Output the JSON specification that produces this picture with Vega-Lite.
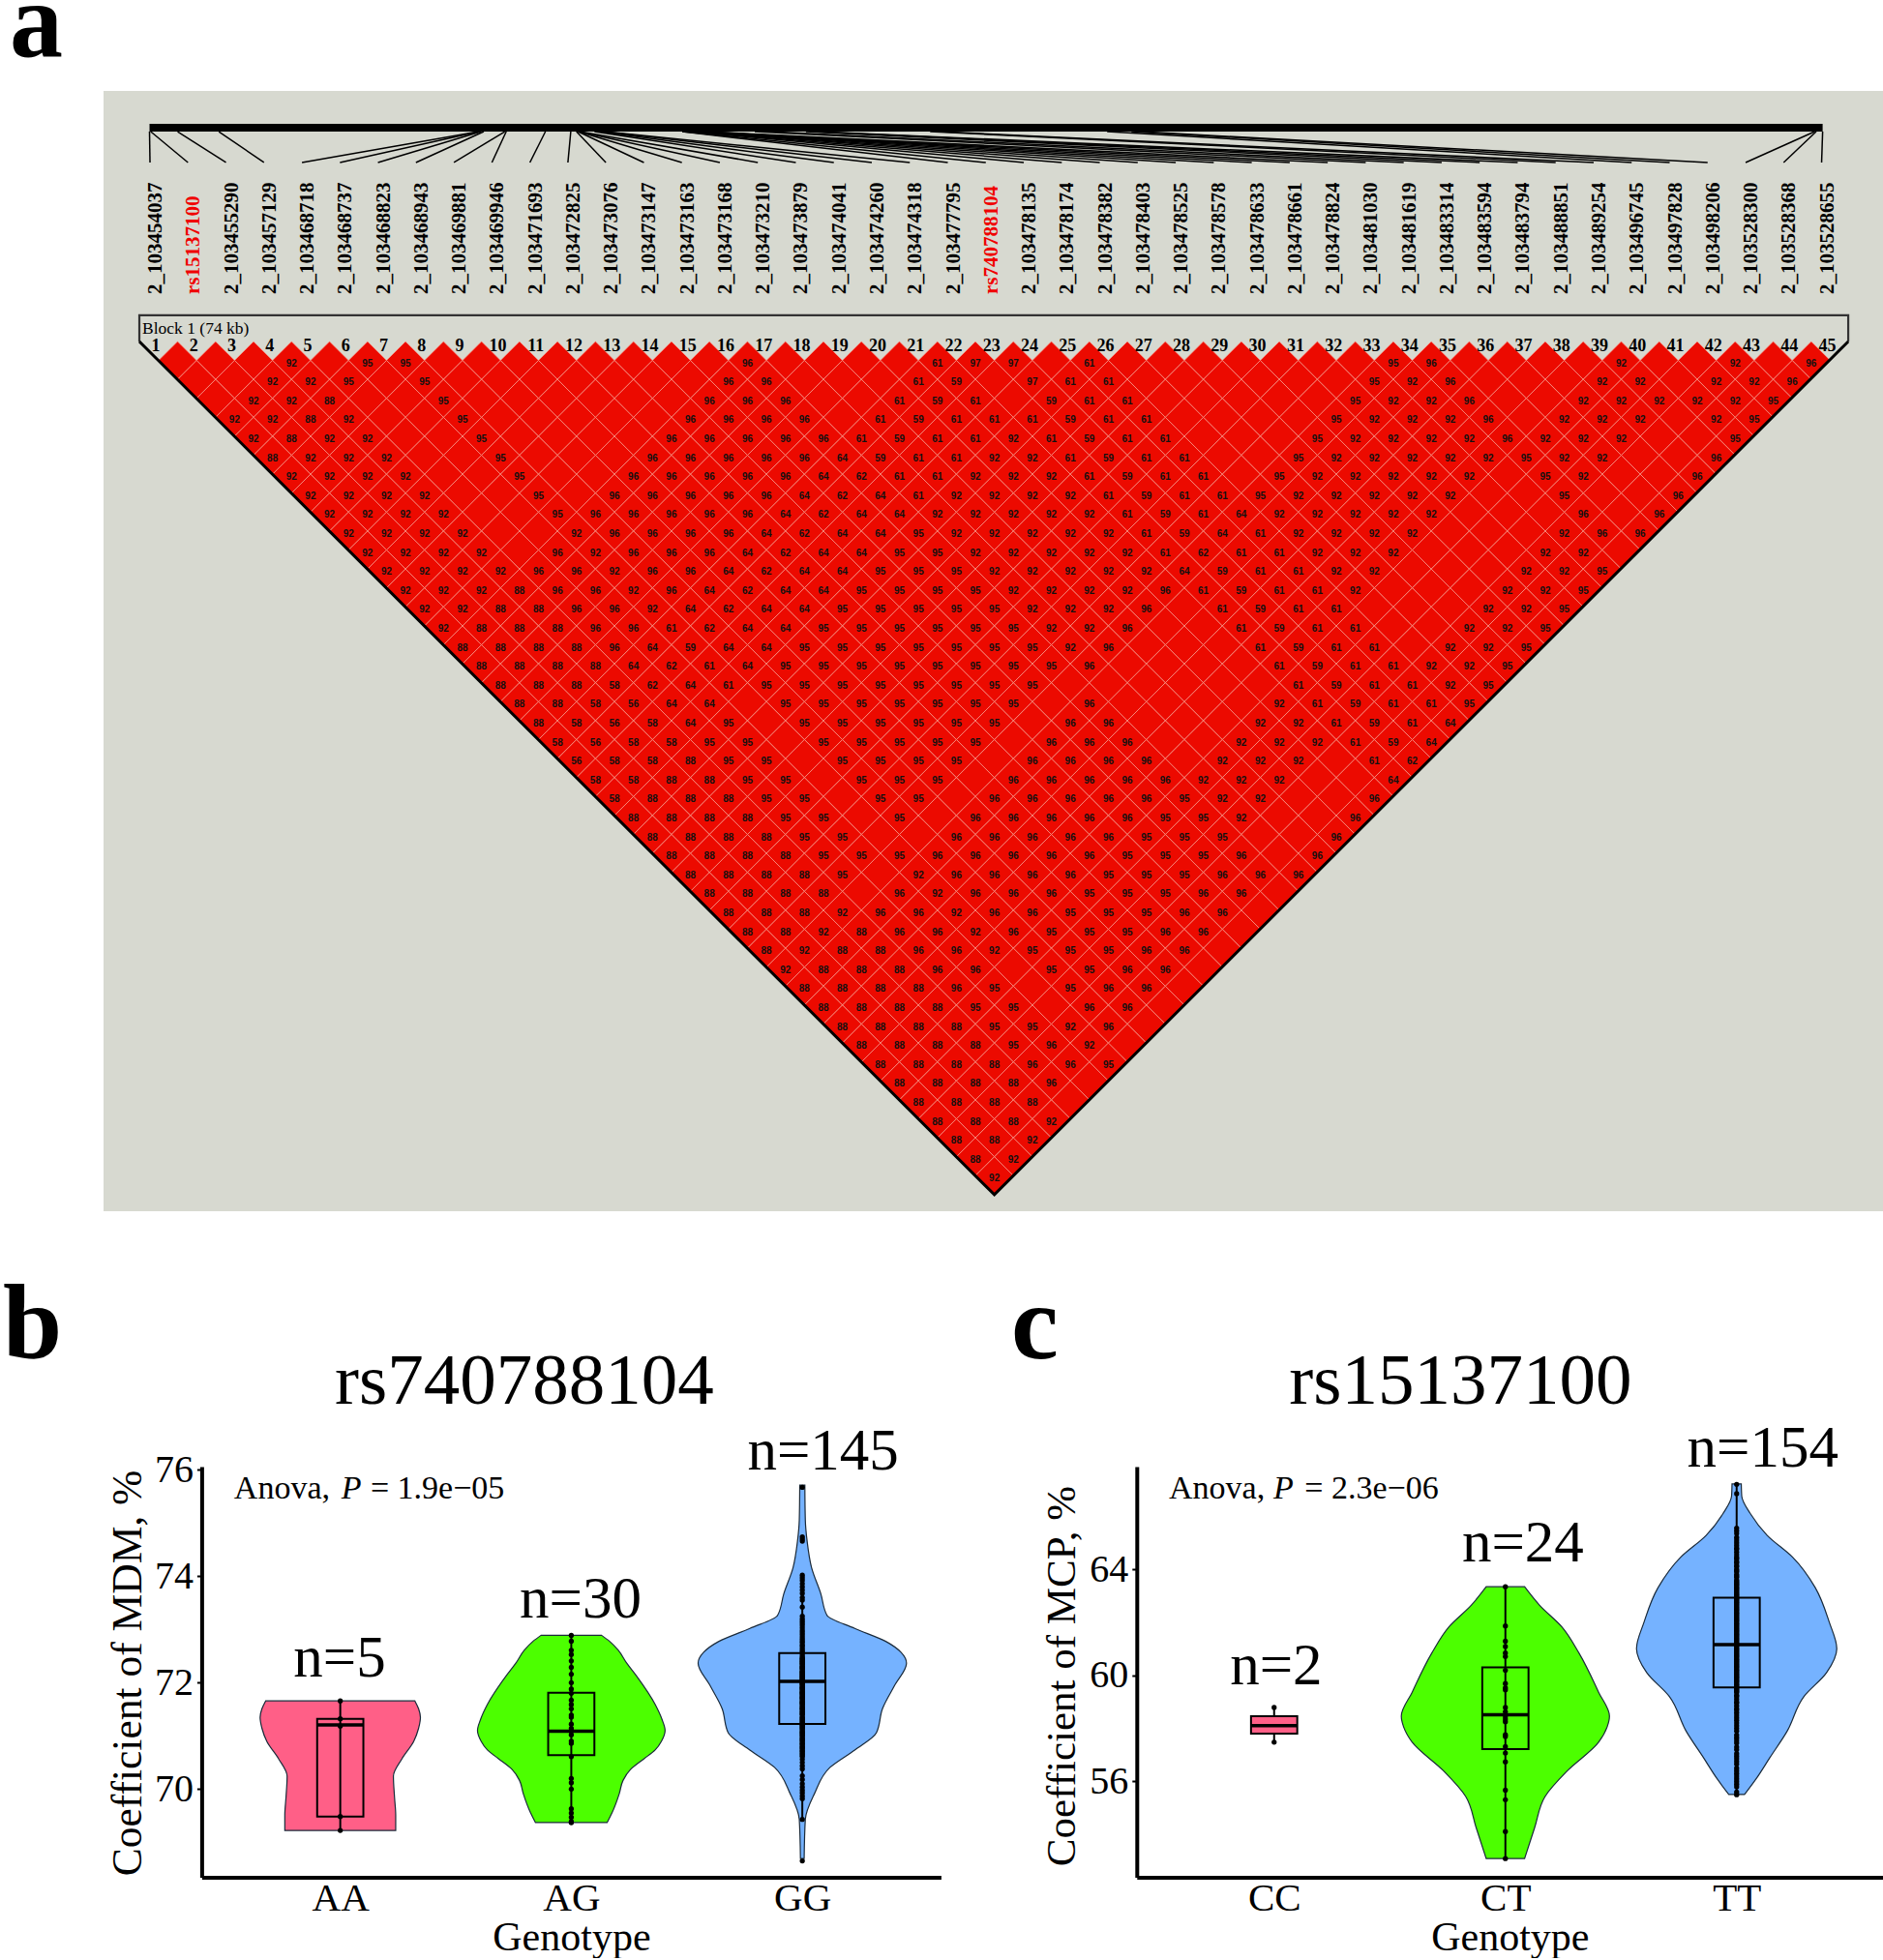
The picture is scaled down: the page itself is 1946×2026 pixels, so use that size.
{"$schema":"https://vega.github.io/schema/vega-lite/v6.json","background":"white","padding":0,"spacing":26,
"config":{"view":{"stroke":null},"axis":{"grid":false}},
"datasets":{
"snps":[{"n":1,"name":"2_103454037","bx":1.523,"sx":1.548,"lx":1.854},{"n":2,"name":"rs15137100","bx":1.586,"sx":3.548,"lx":3.854,"red":true},{"n":3,"name":"2_103455290","bx":3.002,"sx":5.548,"lx":5.854},{"n":4,"name":"2_103457129","bx":5.173,"sx":7.548,"lx":7.854},{"n":5,"name":"2_103468718","bx":18.853,"sx":9.548,"lx":9.854},{"n":6,"name":"2_103468737","bx":18.875,"sx":11.548,"lx":11.854},{"n":7,"name":"2_103468823","bx":18.976,"sx":13.548,"lx":13.854},{"n":8,"name":"2_103468943","bx":19.118,"sx":15.548,"lx":15.854},{"n":9,"name":"2_103469881","bx":20.225,"sx":17.548,"lx":17.854},{"n":10,"name":"2_103469946","bx":20.302,"sx":19.548,"lx":19.854},{"n":11,"name":"2_103471693","bx":22.364,"sx":21.548,"lx":21.854},{"n":12,"name":"2_103472825","bx":23.7,"sx":23.548,"lx":23.854},{"n":13,"name":"2_103473076","bx":23.997,"sx":25.548,"lx":25.854},{"n":14,"name":"2_103473147","bx":24.081,"sx":27.548,"lx":27.854},{"n":15,"name":"2_103473163","bx":24.099,"sx":29.548,"lx":29.854},{"n":16,"name":"2_103473168","bx":24.105,"sx":31.548,"lx":31.854},{"n":17,"name":"2_103473210","bx":24.155,"sx":33.548,"lx":33.854},{"n":18,"name":"2_103473879","bx":24.945,"sx":35.548,"lx":35.854},{"n":19,"name":"2_103474041","bx":25.136,"sx":37.548,"lx":37.854},{"n":20,"name":"2_103474260","bx":25.394,"sx":39.548,"lx":39.854},{"n":21,"name":"2_103474318","bx":25.463,"sx":41.548,"lx":41.854},{"n":22,"name":"2_103477795","bx":29.567,"sx":43.548,"lx":43.854},{"n":23,"name":"rs740788104","bx":29.581,"sx":45.548,"lx":45.854,"red":true},{"n":24,"name":"2_103478135","bx":29.968,"sx":47.548,"lx":47.854},{"n":25,"name":"2_103478174","bx":30.014,"sx":49.548,"lx":49.854},{"n":26,"name":"2_103478382","bx":30.26,"sx":51.548,"lx":51.854},{"n":27,"name":"2_103478403","bx":30.285,"sx":53.548,"lx":53.854},{"n":28,"name":"2_103478525","bx":30.429,"sx":55.548,"lx":55.854},{"n":29,"name":"2_103478578","bx":30.491,"sx":57.548,"lx":57.854},{"n":30,"name":"2_103478633","bx":30.556,"sx":59.548,"lx":59.854},{"n":31,"name":"2_103478661","bx":30.589,"sx":61.548,"lx":61.854},{"n":32,"name":"2_103478824","bx":30.782,"sx":63.548,"lx":63.854},{"n":33,"name":"2_103481030","bx":33.386,"sx":65.548,"lx":65.854},{"n":34,"name":"2_103481619","bx":34.081,"sx":67.548,"lx":67.854},{"n":35,"name":"2_103483314","bx":36.082,"sx":69.548,"lx":69.854},{"n":36,"name":"2_103483594","bx":36.412,"sx":71.548,"lx":71.854},{"n":37,"name":"2_103483794","bx":36.648,"sx":73.548,"lx":73.854},{"n":38,"name":"2_103488851","bx":42.618,"sx":75.548,"lx":75.854},{"n":39,"name":"2_103489254","bx":43.093,"sx":77.548,"lx":77.854},{"n":40,"name":"2_103496745","bx":51.936,"sx":79.548,"lx":79.854},{"n":41,"name":"2_103497828","bx":53.214,"sx":81.548,"lx":81.854},{"n":42,"name":"2_103498206","bx":53.66,"sx":83.548,"lx":83.854},{"n":43,"name":"2_103528300","bx":89.183,"sx":85.548,"lx":85.854},{"n":44,"name":"2_103528368","bx":89.263,"sx":87.548,"lx":87.854},{"n":45,"name":"2_103528655","bx":89.602,"sx":89.548,"lx":89.854}],
"cells":[
{"x":3,"y":1},{"x":5,"y":1},{"x":7,"y":1},{"x":9,"y":1,"v":92},{"x":11,"y":1},{"x":13,"y":1,"v":95},{"x":15,"y":1,"v":95},{"x":17,"y":1},{"x":19,"y":1},{"x":21,"y":1},{"x":23,"y":1},{"x":25,"y":1},{"x":27,"y":1},{"x":29,"y":1},{"x":31,"y":1},{"x":33,"y":1,"v":96},{"x":35,"y":1},{"x":37,"y":1},{"x":39,"y":1},{"x":41,"y":1},{"x":43,"y":1,"v":61},{"x":45,"y":1,"v":97},{"x":47,"y":1,"v":97},{"x":49,"y":1},{"x":51,"y":1,"v":61},{"x":53,"y":1},{"x":55,"y":1},{"x":57,"y":1},{"x":59,"y":1},{"x":61,"y":1},{"x":63,"y":1},{"x":65,"y":1},{"x":67,"y":1,"v":95},{"x":69,"y":1,"v":96},{"x":71,"y":1},{"x":73,"y":1},{"x":75,"y":1},{"x":77,"y":1},{"x":79,"y":1,"v":92},{"x":81,"y":1},{"x":83,"y":1},{"x":85,"y":1,"v":92},{"x":87,"y":1},{"x":89,"y":1,"v":96},
{"x":4,"y":2},{"x":6,"y":2},{"x":8,"y":2,"v":92},{"x":10,"y":2,"v":92},{"x":12,"y":2,"v":95},{"x":14,"y":2},{"x":16,"y":2,"v":95},{"x":18,"y":2},{"x":20,"y":2},{"x":22,"y":2},{"x":24,"y":2},{"x":26,"y":2},{"x":28,"y":2},{"x":30,"y":2},{"x":32,"y":2,"v":96},{"x":34,"y":2,"v":96},{"x":36,"y":2},{"x":38,"y":2},{"x":40,"y":2},{"x":42,"y":2,"v":61},{"x":44,"y":2,"v":59},{"x":46,"y":2},{"x":48,"y":2,"v":97},{"x":50,"y":2,"v":61},{"x":52,"y":2,"v":61},{"x":54,"y":2},{"x":56,"y":2},{"x":58,"y":2},{"x":60,"y":2},{"x":62,"y":2},{"x":64,"y":2},{"x":66,"y":2,"v":95},{"x":68,"y":2,"v":92},{"x":70,"y":2,"v":96},{"x":72,"y":2},{"x":74,"y":2},{"x":76,"y":2},{"x":78,"y":2,"v":92},{"x":80,"y":2,"v":92},{"x":82,"y":2},{"x":84,"y":2,"v":92},{"x":86,"y":2,"v":92},{"x":88,"y":2,"v":96},
{"x":5,"y":3},{"x":7,"y":3,"v":92},{"x":9,"y":3,"v":92},{"x":11,"y":3,"v":88},{"x":13,"y":3},{"x":15,"y":3},{"x":17,"y":3,"v":95},{"x":19,"y":3},{"x":21,"y":3},{"x":23,"y":3},{"x":25,"y":3},{"x":27,"y":3},{"x":29,"y":3},{"x":31,"y":3,"v":96},{"x":33,"y":3,"v":96},{"x":35,"y":3,"v":96},{"x":37,"y":3},{"x":39,"y":3},{"x":41,"y":3,"v":61},{"x":43,"y":3,"v":59},{"x":45,"y":3,"v":61},{"x":47,"y":3},{"x":49,"y":3,"v":59},{"x":51,"y":3,"v":61},{"x":53,"y":3,"v":61},{"x":55,"y":3},{"x":57,"y":3},{"x":59,"y":3},{"x":61,"y":3},{"x":63,"y":3},{"x":65,"y":3,"v":95},{"x":67,"y":3,"v":92},{"x":69,"y":3,"v":92},{"x":71,"y":3,"v":96},{"x":73,"y":3},{"x":75,"y":3},{"x":77,"y":3,"v":92},{"x":79,"y":3,"v":92},{"x":81,"y":3,"v":92},{"x":83,"y":3,"v":92},{"x":85,"y":3,"v":92},{"x":87,"y":3,"v":95},
{"x":6,"y":4,"v":92},{"x":8,"y":4,"v":92},{"x":10,"y":4,"v":88},{"x":12,"y":4,"v":92},{"x":14,"y":4},{"x":16,"y":4},{"x":18,"y":4,"v":95},{"x":20,"y":4},{"x":22,"y":4},{"x":24,"y":4},{"x":26,"y":4},{"x":28,"y":4},{"x":30,"y":4,"v":96},{"x":32,"y":4,"v":96},{"x":34,"y":4,"v":96},{"x":36,"y":4,"v":96},{"x":38,"y":4},{"x":40,"y":4,"v":61},{"x":42,"y":4,"v":59},{"x":44,"y":4,"v":61},{"x":46,"y":4,"v":61},{"x":48,"y":4,"v":61},{"x":50,"y":4,"v":59},{"x":52,"y":4,"v":61},{"x":54,"y":4,"v":61},{"x":56,"y":4},{"x":58,"y":4},{"x":60,"y":4},{"x":62,"y":4},{"x":64,"y":4,"v":95},{"x":66,"y":4,"v":92},{"x":68,"y":4,"v":92},{"x":70,"y":4,"v":92},{"x":72,"y":4,"v":96},{"x":74,"y":4},{"x":76,"y":4,"v":92},{"x":78,"y":4,"v":92},{"x":80,"y":4,"v":92},{"x":82,"y":4},{"x":84,"y":4,"v":92},{"x":86,"y":4,"v":95},
{"x":7,"y":5,"v":92},{"x":9,"y":5,"v":88},{"x":11,"y":5,"v":92},{"x":13,"y":5,"v":92},{"x":15,"y":5},{"x":17,"y":5},{"x":19,"y":5,"v":95},{"x":21,"y":5},{"x":23,"y":5},{"x":25,"y":5},{"x":27,"y":5},{"x":29,"y":5,"v":96},{"x":31,"y":5,"v":96},{"x":33,"y":5,"v":96},{"x":35,"y":5,"v":96},{"x":37,"y":5,"v":96},{"x":39,"y":5,"v":61},{"x":41,"y":5,"v":59},{"x":43,"y":5,"v":61},{"x":45,"y":5,"v":61},{"x":47,"y":5,"v":92},{"x":49,"y":5,"v":61},{"x":51,"y":5,"v":59},{"x":53,"y":5,"v":61},{"x":55,"y":5,"v":61},{"x":57,"y":5},{"x":59,"y":5},{"x":61,"y":5},{"x":63,"y":5,"v":95},{"x":65,"y":5,"v":92},{"x":67,"y":5,"v":92},{"x":69,"y":5,"v":92},{"x":71,"y":5,"v":92},{"x":73,"y":5,"v":96},{"x":75,"y":5,"v":92},{"x":77,"y":5,"v":92},{"x":79,"y":5,"v":92},{"x":81,"y":5},{"x":83,"y":5},{"x":85,"y":5,"v":95},
{"x":8,"y":6,"v":88},{"x":10,"y":6,"v":92},{"x":12,"y":6,"v":92},{"x":14,"y":6,"v":92},{"x":16,"y":6},{"x":18,"y":6},{"x":20,"y":6,"v":95},{"x":22,"y":6},{"x":24,"y":6},{"x":26,"y":6},{"x":28,"y":6,"v":96},{"x":30,"y":6,"v":96},{"x":32,"y":6,"v":96},{"x":34,"y":6,"v":96},{"x":36,"y":6,"v":96},{"x":38,"y":6,"v":64},{"x":40,"y":6,"v":59},{"x":42,"y":6,"v":61},{"x":44,"y":6,"v":61},{"x":46,"y":6,"v":92},{"x":48,"y":6,"v":92},{"x":50,"y":6,"v":61},{"x":52,"y":6,"v":59},{"x":54,"y":6,"v":61},{"x":56,"y":6,"v":61},{"x":58,"y":6},{"x":60,"y":6},{"x":62,"y":6,"v":95},{"x":64,"y":6,"v":92},{"x":66,"y":6,"v":92},{"x":68,"y":6,"v":92},{"x":70,"y":6,"v":92},{"x":72,"y":6,"v":92},{"x":74,"y":6,"v":95},{"x":76,"y":6,"v":92},{"x":78,"y":6,"v":92},{"x":80,"y":6},{"x":82,"y":6},{"x":84,"y":6,"v":96},
{"x":9,"y":7,"v":92},{"x":11,"y":7,"v":92},{"x":13,"y":7,"v":92},{"x":15,"y":7,"v":92},{"x":17,"y":7},{"x":19,"y":7},{"x":21,"y":7,"v":95},{"x":23,"y":7},{"x":25,"y":7},{"x":27,"y":7,"v":96},{"x":29,"y":7,"v":96},{"x":31,"y":7,"v":96},{"x":33,"y":7,"v":96},{"x":35,"y":7,"v":96},{"x":37,"y":7,"v":64},{"x":39,"y":7,"v":62},{"x":41,"y":7,"v":61},{"x":43,"y":7,"v":61},{"x":45,"y":7,"v":92},{"x":47,"y":7,"v":92},{"x":49,"y":7,"v":92},{"x":51,"y":7,"v":61},{"x":53,"y":7,"v":59},{"x":55,"y":7,"v":61},{"x":57,"y":7,"v":61},{"x":59,"y":7},{"x":61,"y":7,"v":95},{"x":63,"y":7,"v":92},{"x":65,"y":7,"v":92},{"x":67,"y":7,"v":92},{"x":69,"y":7,"v":92},{"x":71,"y":7,"v":92},{"x":73,"y":7},{"x":75,"y":7,"v":95},{"x":77,"y":7,"v":92},{"x":79,"y":7},{"x":81,"y":7},{"x":83,"y":7,"v":96},
{"x":10,"y":8,"v":92},{"x":12,"y":8,"v":92},{"x":14,"y":8,"v":92},{"x":16,"y":8,"v":92},{"x":18,"y":8},{"x":20,"y":8},{"x":22,"y":8,"v":95},{"x":24,"y":8},{"x":26,"y":8,"v":96},{"x":28,"y":8,"v":96},{"x":30,"y":8,"v":96},{"x":32,"y":8,"v":96},{"x":34,"y":8,"v":96},{"x":36,"y":8,"v":64},{"x":38,"y":8,"v":62},{"x":40,"y":8,"v":64},{"x":42,"y":8,"v":61},{"x":44,"y":8,"v":92},{"x":46,"y":8,"v":92},{"x":48,"y":8,"v":92},{"x":50,"y":8,"v":92},{"x":52,"y":8,"v":61},{"x":54,"y":8,"v":59},{"x":56,"y":8,"v":61},{"x":58,"y":8,"v":61},{"x":60,"y":8,"v":95},{"x":62,"y":8,"v":92},{"x":64,"y":8,"v":92},{"x":66,"y":8,"v":92},{"x":68,"y":8,"v":92},{"x":70,"y":8,"v":92},{"x":72,"y":8},{"x":74,"y":8},{"x":76,"y":8,"v":95},{"x":78,"y":8},{"x":80,"y":8},{"x":82,"y":8,"v":96},
{"x":11,"y":9,"v":92},{"x":13,"y":9,"v":92},{"x":15,"y":9,"v":92},{"x":17,"y":9,"v":92},{"x":19,"y":9},{"x":21,"y":9},{"x":23,"y":9,"v":95},{"x":25,"y":9,"v":96},{"x":27,"y":9,"v":96},{"x":29,"y":9,"v":96},{"x":31,"y":9,"v":96},{"x":33,"y":9,"v":96},{"x":35,"y":9,"v":64},{"x":37,"y":9,"v":62},{"x":39,"y":9,"v":64},{"x":41,"y":9,"v":64},{"x":43,"y":9,"v":92},{"x":45,"y":9,"v":92},{"x":47,"y":9,"v":92},{"x":49,"y":9,"v":92},{"x":51,"y":9,"v":92},{"x":53,"y":9,"v":61},{"x":55,"y":9,"v":59},{"x":57,"y":9,"v":61},{"x":59,"y":9,"v":64},{"x":61,"y":9,"v":92},{"x":63,"y":9,"v":92},{"x":65,"y":9,"v":92},{"x":67,"y":9,"v":92},{"x":69,"y":9,"v":92},{"x":71,"y":9},{"x":73,"y":9},{"x":75,"y":9},{"x":77,"y":9,"v":96},{"x":79,"y":9},{"x":81,"y":9,"v":96},
{"x":12,"y":10,"v":92},{"x":14,"y":10,"v":92},{"x":16,"y":10,"v":92},{"x":18,"y":10,"v":92},{"x":20,"y":10},{"x":22,"y":10},{"x":24,"y":10,"v":92},{"x":26,"y":10,"v":96},{"x":28,"y":10,"v":96},{"x":30,"y":10,"v":96},{"x":32,"y":10,"v":96},{"x":34,"y":10,"v":64},{"x":36,"y":10,"v":62},{"x":38,"y":10,"v":64},{"x":40,"y":10,"v":64},{"x":42,"y":10,"v":95},{"x":44,"y":10,"v":92},{"x":46,"y":10,"v":92},{"x":48,"y":10,"v":92},{"x":50,"y":10,"v":92},{"x":52,"y":10,"v":92},{"x":54,"y":10,"v":61},{"x":56,"y":10,"v":59},{"x":58,"y":10,"v":64},{"x":60,"y":10,"v":61},{"x":62,"y":10,"v":92},{"x":64,"y":10,"v":92},{"x":66,"y":10,"v":92},{"x":68,"y":10,"v":92},{"x":70,"y":10},{"x":72,"y":10},{"x":74,"y":10},{"x":76,"y":10,"v":92},{"x":78,"y":10,"v":96},{"x":80,"y":10,"v":96},
{"x":13,"y":11,"v":92},{"x":15,"y":11,"v":92},{"x":17,"y":11,"v":92},{"x":19,"y":11,"v":92},{"x":21,"y":11},{"x":23,"y":11,"v":96},{"x":25,"y":11,"v":92},{"x":27,"y":11,"v":96},{"x":29,"y":11,"v":96},{"x":31,"y":11,"v":96},{"x":33,"y":11,"v":64},{"x":35,"y":11,"v":62},{"x":37,"y":11,"v":64},{"x":39,"y":11,"v":64},{"x":41,"y":11,"v":95},{"x":43,"y":11,"v":95},{"x":45,"y":11,"v":92},{"x":47,"y":11,"v":92},{"x":49,"y":11,"v":92},{"x":51,"y":11,"v":92},{"x":53,"y":11,"v":92},{"x":55,"y":11,"v":61},{"x":57,"y":11,"v":62},{"x":59,"y":11,"v":61},{"x":61,"y":11,"v":61},{"x":63,"y":11,"v":92},{"x":65,"y":11,"v":92},{"x":67,"y":11,"v":92},{"x":69,"y":11},{"x":71,"y":11},{"x":73,"y":11},{"x":75,"y":11,"v":92},{"x":77,"y":11,"v":92},{"x":79,"y":11},
{"x":14,"y":12,"v":92},{"x":16,"y":12,"v":92},{"x":18,"y":12,"v":92},{"x":20,"y":12,"v":92},{"x":22,"y":12,"v":96},{"x":24,"y":12,"v":96},{"x":26,"y":12,"v":92},{"x":28,"y":12,"v":96},{"x":30,"y":12,"v":96},{"x":32,"y":12,"v":64},{"x":34,"y":12,"v":62},{"x":36,"y":12,"v":64},{"x":38,"y":12,"v":64},{"x":40,"y":12,"v":95},{"x":42,"y":12,"v":95},{"x":44,"y":12,"v":95},{"x":46,"y":12,"v":92},{"x":48,"y":12,"v":92},{"x":50,"y":12,"v":92},{"x":52,"y":12,"v":92},{"x":54,"y":12,"v":92},{"x":56,"y":12,"v":64},{"x":58,"y":12,"v":59},{"x":60,"y":12,"v":61},{"x":62,"y":12,"v":61},{"x":64,"y":12,"v":92},{"x":66,"y":12,"v":92},{"x":68,"y":12},{"x":70,"y":12},{"x":72,"y":12},{"x":74,"y":12,"v":92},{"x":76,"y":12,"v":92},{"x":78,"y":12,"v":95},
{"x":15,"y":13,"v":92},{"x":17,"y":13,"v":92},{"x":19,"y":13,"v":92},{"x":21,"y":13,"v":88},{"x":23,"y":13,"v":96},{"x":25,"y":13,"v":96},{"x":27,"y":13,"v":92},{"x":29,"y":13,"v":96},{"x":31,"y":13,"v":64},{"x":33,"y":13,"v":62},{"x":35,"y":13,"v":64},{"x":37,"y":13,"v":64},{"x":39,"y":13,"v":95},{"x":41,"y":13,"v":95},{"x":43,"y":13,"v":95},{"x":45,"y":13,"v":95},{"x":47,"y":13,"v":92},{"x":49,"y":13,"v":92},{"x":51,"y":13,"v":92},{"x":53,"y":13,"v":92},{"x":55,"y":13,"v":96},{"x":57,"y":13,"v":61},{"x":59,"y":13,"v":59},{"x":61,"y":13,"v":61},{"x":63,"y":13,"v":61},{"x":65,"y":13,"v":92},{"x":67,"y":13},{"x":69,"y":13},{"x":71,"y":13},{"x":73,"y":13,"v":92},{"x":75,"y":13,"v":92},{"x":77,"y":13,"v":95},
{"x":16,"y":14,"v":92},{"x":18,"y":14,"v":92},{"x":20,"y":14,"v":88},{"x":22,"y":14,"v":88},{"x":24,"y":14,"v":96},{"x":26,"y":14,"v":96},{"x":28,"y":14,"v":92},{"x":30,"y":14,"v":64},{"x":32,"y":14,"v":62},{"x":34,"y":14,"v":64},{"x":36,"y":14,"v":64},{"x":38,"y":14,"v":95},{"x":40,"y":14,"v":95},{"x":42,"y":14,"v":95},{"x":44,"y":14,"v":95},{"x":46,"y":14,"v":95},{"x":48,"y":14,"v":92},{"x":50,"y":14,"v":92},{"x":52,"y":14,"v":92},{"x":54,"y":14,"v":96},{"x":56,"y":14},{"x":58,"y":14,"v":61},{"x":60,"y":14,"v":59},{"x":62,"y":14,"v":61},{"x":64,"y":14,"v":61},{"x":66,"y":14},{"x":68,"y":14},{"x":70,"y":14},{"x":72,"y":14,"v":92},{"x":74,"y":14,"v":92},{"x":76,"y":14,"v":95},
{"x":17,"y":15,"v":92},{"x":19,"y":15,"v":88},{"x":21,"y":15,"v":88},{"x":23,"y":15,"v":88},{"x":25,"y":15,"v":96},{"x":27,"y":15,"v":96},{"x":29,"y":15,"v":61},{"x":31,"y":15,"v":62},{"x":33,"y":15,"v":64},{"x":35,"y":15,"v":64},{"x":37,"y":15,"v":95},{"x":39,"y":15,"v":95},{"x":41,"y":15,"v":95},{"x":43,"y":15,"v":95},{"x":45,"y":15,"v":95},{"x":47,"y":15,"v":95},{"x":49,"y":15,"v":92},{"x":51,"y":15,"v":92},{"x":53,"y":15,"v":96},{"x":55,"y":15},{"x":57,"y":15},{"x":59,"y":15,"v":61},{"x":61,"y":15,"v":59},{"x":63,"y":15,"v":61},{"x":65,"y":15,"v":61},{"x":67,"y":15},{"x":69,"y":15},{"x":71,"y":15,"v":92},{"x":73,"y":15,"v":92},{"x":75,"y":15,"v":95},
{"x":18,"y":16,"v":88},{"x":20,"y":16,"v":88},{"x":22,"y":16,"v":88},{"x":24,"y":16,"v":88},{"x":26,"y":16,"v":96},{"x":28,"y":16,"v":64},{"x":30,"y":16,"v":59},{"x":32,"y":16,"v":64},{"x":34,"y":16,"v":64},{"x":36,"y":16,"v":95},{"x":38,"y":16,"v":95},{"x":40,"y":16,"v":95},{"x":42,"y":16,"v":95},{"x":44,"y":16,"v":95},{"x":46,"y":16,"v":95},{"x":48,"y":16,"v":95},{"x":50,"y":16,"v":92},{"x":52,"y":16,"v":96},{"x":54,"y":16},{"x":56,"y":16},{"x":58,"y":16},{"x":60,"y":16,"v":61},{"x":62,"y":16,"v":59},{"x":64,"y":16,"v":61},{"x":66,"y":16,"v":61},{"x":68,"y":16},{"x":70,"y":16,"v":92},{"x":72,"y":16,"v":92},{"x":74,"y":16,"v":95},
{"x":19,"y":17,"v":88},{"x":21,"y":17,"v":88},{"x":23,"y":17,"v":88},{"x":25,"y":17,"v":88},{"x":27,"y":17,"v":64},{"x":29,"y":17,"v":62},{"x":31,"y":17,"v":61},{"x":33,"y":17,"v":64},{"x":35,"y":17,"v":95},{"x":37,"y":17,"v":95},{"x":39,"y":17,"v":95},{"x":41,"y":17,"v":95},{"x":43,"y":17,"v":95},{"x":45,"y":17,"v":95},{"x":47,"y":17,"v":95},{"x":49,"y":17,"v":95},{"x":51,"y":17,"v":96},{"x":53,"y":17},{"x":55,"y":17},{"x":57,"y":17},{"x":59,"y":17},{"x":61,"y":17,"v":61},{"x":63,"y":17,"v":59},{"x":65,"y":17,"v":61},{"x":67,"y":17,"v":61},{"x":69,"y":17,"v":92},{"x":71,"y":17,"v":92},{"x":73,"y":17,"v":95},
{"x":20,"y":18,"v":88},{"x":22,"y":18,"v":88},{"x":24,"y":18,"v":88},{"x":26,"y":18,"v":58},{"x":28,"y":18,"v":62},{"x":30,"y":18,"v":64},{"x":32,"y":18,"v":61},{"x":34,"y":18,"v":95},{"x":36,"y":18,"v":95},{"x":38,"y":18,"v":95},{"x":40,"y":18,"v":95},{"x":42,"y":18,"v":95},{"x":44,"y":18,"v":95},{"x":46,"y":18,"v":95},{"x":48,"y":18,"v":95},{"x":50,"y":18},{"x":52,"y":18},{"x":54,"y":18},{"x":56,"y":18},{"x":58,"y":18},{"x":60,"y":18},{"x":62,"y":18,"v":61},{"x":64,"y":18,"v":59},{"x":66,"y":18,"v":61},{"x":68,"y":18,"v":61},{"x":70,"y":18,"v":92},{"x":72,"y":18,"v":95},
{"x":21,"y":19,"v":88},{"x":23,"y":19,"v":88},{"x":25,"y":19,"v":58},{"x":27,"y":19,"v":56},{"x":29,"y":19,"v":64},{"x":31,"y":19,"v":64},{"x":33,"y":19},{"x":35,"y":19,"v":95},{"x":37,"y":19,"v":95},{"x":39,"y":19,"v":95},{"x":41,"y":19,"v":95},{"x":43,"y":19,"v":95},{"x":45,"y":19,"v":95},{"x":47,"y":19,"v":95},{"x":49,"y":19},{"x":51,"y":19,"v":96},{"x":53,"y":19},{"x":55,"y":19},{"x":57,"y":19},{"x":59,"y":19},{"x":61,"y":19,"v":92},{"x":63,"y":19,"v":61},{"x":65,"y":19,"v":59},{"x":67,"y":19,"v":61},{"x":69,"y":19,"v":61},{"x":71,"y":19,"v":95},
{"x":22,"y":20,"v":88},{"x":24,"y":20,"v":58},{"x":26,"y":20,"v":56},{"x":28,"y":20,"v":58},{"x":30,"y":20,"v":64},{"x":32,"y":20,"v":95},{"x":34,"y":20},{"x":36,"y":20,"v":95},{"x":38,"y":20,"v":95},{"x":40,"y":20,"v":95},{"x":42,"y":20,"v":95},{"x":44,"y":20,"v":95},{"x":46,"y":20,"v":95},{"x":48,"y":20},{"x":50,"y":20,"v":96},{"x":52,"y":20,"v":96},{"x":54,"y":20},{"x":56,"y":20},{"x":58,"y":20},{"x":60,"y":20,"v":92},{"x":62,"y":20,"v":92},{"x":64,"y":20,"v":61},{"x":66,"y":20,"v":59},{"x":68,"y":20,"v":61},{"x":70,"y":20,"v":64},
{"x":23,"y":21,"v":58},{"x":25,"y":21,"v":56},{"x":27,"y":21,"v":58},{"x":29,"y":21,"v":58},{"x":31,"y":21,"v":95},{"x":33,"y":21,"v":95},{"x":35,"y":21},{"x":37,"y":21,"v":95},{"x":39,"y":21,"v":95},{"x":41,"y":21,"v":95},{"x":43,"y":21,"v":95},{"x":45,"y":21,"v":95},{"x":47,"y":21},{"x":49,"y":21,"v":96},{"x":51,"y":21,"v":96},{"x":53,"y":21,"v":96},{"x":55,"y":21},{"x":57,"y":21},{"x":59,"y":21,"v":92},{"x":61,"y":21,"v":92},{"x":63,"y":21,"v":92},{"x":65,"y":21,"v":61},{"x":67,"y":21,"v":59},{"x":69,"y":21,"v":64},
{"x":24,"y":22,"v":56},{"x":26,"y":22,"v":58},{"x":28,"y":22,"v":58},{"x":30,"y":22,"v":88},{"x":32,"y":22,"v":95},{"x":34,"y":22,"v":95},{"x":36,"y":22},{"x":38,"y":22,"v":95},{"x":40,"y":22,"v":95},{"x":42,"y":22,"v":95},{"x":44,"y":22,"v":95},{"x":46,"y":22},{"x":48,"y":22,"v":96},{"x":50,"y":22,"v":96},{"x":52,"y":22,"v":96},{"x":54,"y":22,"v":96},{"x":56,"y":22},{"x":58,"y":22,"v":92},{"x":60,"y":22,"v":92},{"x":62,"y":22,"v":92},{"x":64,"y":22},{"x":66,"y":22,"v":61},{"x":68,"y":22,"v":62},
{"x":25,"y":23,"v":58},{"x":27,"y":23,"v":58},{"x":29,"y":23,"v":88},{"x":31,"y":23,"v":88},{"x":33,"y":23,"v":95},{"x":35,"y":23,"v":95},{"x":37,"y":23},{"x":39,"y":23,"v":95},{"x":41,"y":23,"v":95},{"x":43,"y":23,"v":95},{"x":45,"y":23},{"x":47,"y":23,"v":96},{"x":49,"y":23,"v":96},{"x":51,"y":23,"v":96},{"x":53,"y":23,"v":96},{"x":55,"y":23,"v":96},{"x":57,"y":23,"v":92},{"x":59,"y":23,"v":92},{"x":61,"y":23,"v":92},{"x":63,"y":23},{"x":65,"y":23},{"x":67,"y":23,"v":64},
{"x":26,"y":24,"v":58},{"x":28,"y":24,"v":88},{"x":30,"y":24,"v":88},{"x":32,"y":24,"v":88},{"x":34,"y":24,"v":95},{"x":36,"y":24,"v":95},{"x":38,"y":24},{"x":40,"y":24,"v":95},{"x":42,"y":24,"v":95},{"x":44,"y":24},{"x":46,"y":24,"v":96},{"x":48,"y":24,"v":96},{"x":50,"y":24,"v":96},{"x":52,"y":24,"v":96},{"x":54,"y":24,"v":96},{"x":56,"y":24,"v":95},{"x":58,"y":24,"v":92},{"x":60,"y":24,"v":92},{"x":62,"y":24},{"x":64,"y":24},{"x":66,"y":24,"v":96},
{"x":27,"y":25,"v":88},{"x":29,"y":25,"v":88},{"x":31,"y":25,"v":88},{"x":33,"y":25,"v":88},{"x":35,"y":25,"v":95},{"x":37,"y":25,"v":95},{"x":39,"y":25},{"x":41,"y":25,"v":95},{"x":43,"y":25},{"x":45,"y":25,"v":96},{"x":47,"y":25,"v":96},{"x":49,"y":25,"v":96},{"x":51,"y":25,"v":96},{"x":53,"y":25,"v":96},{"x":55,"y":25,"v":95},{"x":57,"y":25,"v":95},{"x":59,"y":25,"v":92},{"x":61,"y":25},{"x":63,"y":25},{"x":65,"y":25,"v":96},
{"x":28,"y":26,"v":88},{"x":30,"y":26,"v":88},{"x":32,"y":26,"v":88},{"x":34,"y":26,"v":88},{"x":36,"y":26,"v":95},{"x":38,"y":26,"v":95},{"x":40,"y":26},{"x":42,"y":26},{"x":44,"y":26,"v":96},{"x":46,"y":26,"v":96},{"x":48,"y":26,"v":96},{"x":50,"y":26,"v":96},{"x":52,"y":26,"v":96},{"x":54,"y":26,"v":95},{"x":56,"y":26,"v":95},{"x":58,"y":26,"v":95},{"x":60,"y":26},{"x":62,"y":26},{"x":64,"y":26,"v":96},
{"x":29,"y":27,"v":88},{"x":31,"y":27,"v":88},{"x":33,"y":27,"v":88},{"x":35,"y":27,"v":88},{"x":37,"y":27,"v":95},{"x":39,"y":27,"v":95},{"x":41,"y":27,"v":95},{"x":43,"y":27,"v":96},{"x":45,"y":27,"v":96},{"x":47,"y":27,"v":96},{"x":49,"y":27,"v":96},{"x":51,"y":27,"v":96},{"x":53,"y":27,"v":95},{"x":55,"y":27,"v":95},{"x":57,"y":27,"v":95},{"x":59,"y":27,"v":96},{"x":61,"y":27},{"x":63,"y":27,"v":96},
{"x":30,"y":28,"v":88},{"x":32,"y":28,"v":88},{"x":34,"y":28,"v":88},{"x":36,"y":28,"v":88},{"x":38,"y":28,"v":95},{"x":40,"y":28},{"x":42,"y":28,"v":92},{"x":44,"y":28,"v":96},{"x":46,"y":28,"v":96},{"x":48,"y":28,"v":96},{"x":50,"y":28,"v":96},{"x":52,"y":28,"v":95},{"x":54,"y":28,"v":95},{"x":56,"y":28,"v":95},{"x":58,"y":28,"v":96},{"x":60,"y":28,"v":96},{"x":62,"y":28,"v":96},
{"x":31,"y":29,"v":88},{"x":33,"y":29,"v":88},{"x":35,"y":29,"v":88},{"x":37,"y":29,"v":88},{"x":39,"y":29},{"x":41,"y":29,"v":96},{"x":43,"y":29,"v":92},{"x":45,"y":29,"v":96},{"x":47,"y":29,"v":96},{"x":49,"y":29,"v":96},{"x":51,"y":29,"v":95},{"x":53,"y":29,"v":95},{"x":55,"y":29,"v":95},{"x":57,"y":29,"v":96},{"x":59,"y":29,"v":96},{"x":61,"y":29},
{"x":32,"y":30,"v":88},{"x":34,"y":30,"v":88},{"x":36,"y":30,"v":88},{"x":38,"y":30,"v":92},{"x":40,"y":30,"v":96},{"x":42,"y":30,"v":96},{"x":44,"y":30,"v":92},{"x":46,"y":30,"v":96},{"x":48,"y":30,"v":96},{"x":50,"y":30,"v":95},{"x":52,"y":30,"v":95},{"x":54,"y":30,"v":95},{"x":56,"y":30,"v":96},{"x":58,"y":30,"v":96},{"x":60,"y":30},
{"x":33,"y":31,"v":88},{"x":35,"y":31,"v":88},{"x":37,"y":31,"v":92},{"x":39,"y":31,"v":88},{"x":41,"y":31,"v":96},{"x":43,"y":31,"v":96},{"x":45,"y":31,"v":92},{"x":47,"y":31,"v":96},{"x":49,"y":31,"v":95},{"x":51,"y":31,"v":95},{"x":53,"y":31,"v":95},{"x":55,"y":31,"v":96},{"x":57,"y":31,"v":96},{"x":59,"y":31},
{"x":34,"y":32,"v":88},{"x":36,"y":32,"v":92},{"x":38,"y":32,"v":88},{"x":40,"y":32,"v":88},{"x":42,"y":32,"v":96},{"x":44,"y":32,"v":96},{"x":46,"y":32,"v":92},{"x":48,"y":32,"v":95},{"x":50,"y":32,"v":95},{"x":52,"y":32,"v":95},{"x":54,"y":32,"v":96},{"x":56,"y":32,"v":96},{"x":58,"y":32},
{"x":35,"y":33,"v":92},{"x":37,"y":33,"v":88},{"x":39,"y":33,"v":88},{"x":41,"y":33,"v":88},{"x":43,"y":33,"v":96},{"x":45,"y":33,"v":96},{"x":47,"y":33},{"x":49,"y":33,"v":95},{"x":51,"y":33,"v":95},{"x":53,"y":33,"v":96},{"x":55,"y":33,"v":96},{"x":57,"y":33},
{"x":36,"y":34,"v":88},{"x":38,"y":34,"v":88},{"x":40,"y":34,"v":88},{"x":42,"y":34,"v":88},{"x":44,"y":34,"v":96},{"x":46,"y":34,"v":95},{"x":48,"y":34},{"x":50,"y":34,"v":95},{"x":52,"y":34,"v":96},{"x":54,"y":34,"v":96},{"x":56,"y":34},
{"x":37,"y":35,"v":88},{"x":39,"y":35,"v":88},{"x":41,"y":35,"v":88},{"x":43,"y":35,"v":88},{"x":45,"y":35,"v":95},{"x":47,"y":35,"v":95},{"x":49,"y":35},{"x":51,"y":35,"v":96},{"x":53,"y":35,"v":96},{"x":55,"y":35},
{"x":38,"y":36,"v":88},{"x":40,"y":36,"v":88},{"x":42,"y":36,"v":88},{"x":44,"y":36,"v":88},{"x":46,"y":36,"v":95},{"x":48,"y":36,"v":95},{"x":50,"y":36,"v":92},{"x":52,"y":36,"v":96},{"x":54,"y":36},
{"x":39,"y":37,"v":88},{"x":41,"y":37,"v":88},{"x":43,"y":37,"v":88},{"x":45,"y":37,"v":88},{"x":47,"y":37,"v":95},{"x":49,"y":37,"v":96},{"x":51,"y":37,"v":92},{"x":53,"y":37},
{"x":40,"y":38,"v":88},{"x":42,"y":38,"v":88},{"x":44,"y":38,"v":88},{"x":46,"y":38,"v":88},{"x":48,"y":38,"v":96},{"x":50,"y":38,"v":96},{"x":52,"y":38,"v":95},
{"x":41,"y":39,"v":88},{"x":43,"y":39,"v":88},{"x":45,"y":39,"v":88},{"x":47,"y":39,"v":88},{"x":49,"y":39,"v":96},{"x":51,"y":39},
{"x":42,"y":40,"v":88},{"x":44,"y":40,"v":88},{"x":46,"y":40,"v":88},{"x":48,"y":40,"v":88},{"x":50,"y":40},
{"x":43,"y":41,"v":88},{"x":45,"y":41,"v":88},{"x":47,"y":41,"v":88},{"x":49,"y":41,"v":92},
{"x":44,"y":42,"v":88},{"x":46,"y":42,"v":88},{"x":48,"y":42,"v":92},
{"x":45,"y":43,"v":88},{"x":47,"y":43,"v":92},
{"x":46,"y":44,"v":92}
],
"vb":[{"g":"AA","y":71.657,"x0":0.677,"x1":1.323},{"g":"AA","y":71.51,"x0":0.661,"x1":1.339},{"g":"AA","y":71.347,"x0":0.653,"x1":1.347},{"g":"AA","y":71.143,"x0":0.661,"x1":1.339},{"g":"AA","y":70.898,"x0":0.682,"x1":1.318},{"g":"AA","y":70.571,"x0":0.733,"x1":1.267},{"g":"AA","y":70.245,"x0":0.77,"x1":1.23},{"g":"AA","y":69.837,"x0":0.765,"x1":1.235},{"g":"AA","y":69.51,"x0":0.76,"x1":1.24},{"g":"AA","y":69.224,"x0":0.76,"x1":1.24},
{"g":"AG","y":72.89,"x0":1.869,"x1":2.131},{"g":"AG","y":72.776,"x0":1.834,"x1":2.166},{"g":"AG","y":72.612,"x0":1.797,"x1":2.203},{"g":"AG","y":72.367,"x0":1.76,"x1":2.24},{"g":"AG","y":72.122,"x0":1.717,"x1":2.283},{"g":"AG","y":71.592,"x0":1.637,"x1":2.363},{"g":"AG","y":71.306,"x0":1.607,"x1":2.393},{"g":"AG","y":71.102,"x0":1.594,"x1":2.406},{"g":"AG","y":70.898,"x0":1.61,"x1":2.39},{"g":"AG","y":70.735,"x0":1.637,"x1":2.363},{"g":"AG","y":70.571,"x0":1.685,"x1":2.315},{"g":"AG","y":70.367,"x0":1.744,"x1":2.256},{"g":"AG","y":70.163,"x0":1.776,"x1":2.224},{"g":"AG","y":69.918,"x0":1.792,"x1":2.208},{"g":"AG","y":69.551,"x0":1.824,"x1":2.176},{"g":"AG","y":69.371,"x0":1.845,"x1":2.155},
{"g":"GG","y":75.714,"x0":2.989,"x1":3.011},{"g":"GG","y":75.061,"x0":2.987,"x1":3.013},{"g":"GG","y":74.653,"x0":2.979,"x1":3.021},{"g":"GG","y":74.163,"x0":2.96,"x1":3.04},{"g":"GG","y":73.673,"x0":2.92,"x1":3.08},{"g":"GG","y":73.265,"x0":2.893,"x1":3.107},{"g":"GG","y":73.02,"x0":2.773,"x1":3.227},{"g":"GG","y":72.776,"x0":2.639,"x1":3.361},{"g":"GG","y":72.571,"x0":2.573,"x1":3.427},{"g":"GG","y":72.367,"x0":2.549,"x1":3.451},{"g":"GG","y":71.959,"x0":2.599,"x1":3.401},{"g":"GG","y":71.51,"x0":2.653,"x1":3.347},{"g":"GG","y":71.061,"x0":2.679,"x1":3.321},{"g":"GG","y":70.735,"x0":2.773,"x1":3.227},{"g":"GG","y":70.408,"x0":2.88,"x1":3.12},{"g":"GG","y":69.918,"x0":2.947,"x1":3.053},{"g":"GG","y":69.429,"x0":2.987,"x1":3.013},{"g":"GG","y":68.694,"x0":2.992,"x1":3.008}],
"vc":[{"g":"CT","y":63.34,"x0":1.917,"x1":2.083},{"g":"CT","y":62.65,"x0":1.853,"x1":2.147},{"g":"CT","y":61.829,"x0":1.756,"x1":2.244},{"g":"CT","y":60.844,"x0":1.682,"x1":2.318},{"g":"CT","y":59.366,"x0":1.597,"x1":2.403},{"g":"CT","y":58.463,"x0":1.55,"x1":2.45},{"g":"CT","y":58.053,"x0":1.56,"x1":2.44},{"g":"CT","y":57.478,"x0":1.597,"x1":2.403},{"g":"CT","y":56.411,"x0":1.731,"x1":2.269},{"g":"CT","y":55.425,"x0":1.829,"x1":2.171},{"g":"CT","y":54.276,"x0":1.873,"x1":2.127},{"g":"CT","y":53.094,"x0":1.917,"x1":2.083},
{"g":"TT","y":67.215,"x0":2.98,"x1":3.02},{"g":"TT","y":66.755,"x0":2.978,"x1":3.022},{"g":"TT","y":66.099,"x0":2.941,"x1":3.059},{"g":"TT","y":65.278,"x0":2.868,"x1":3.132},{"g":"TT","y":64.456,"x0":2.758,"x1":3.242},{"g":"TT","y":63.307,"x0":2.66,"x1":3.34},{"g":"TT","y":61.993,"x0":2.599,"x1":3.401},{"g":"TT","y":61.008,"x0":2.567,"x1":3.433},{"g":"TT","y":60.105,"x0":2.611,"x1":3.389},{"g":"TT","y":59.202,"x0":2.709,"x1":3.291},{"g":"TT","y":57.888,"x0":2.782,"x1":3.218},{"g":"TT","y":56.903,"x0":2.856,"x1":3.144},{"g":"TT","y":56.082,"x0":2.917,"x1":3.083},{"g":"TT","y":55.507,"x0":2.966,"x1":3.034}],
"bb":[{"g":"AA","c":1,"x0":0.9,"x1":1.1,"q1":69.486,"med":71.208,"q3":71.322,"lo":69.224,"hi":71.657},{"g":"AG","c":2,"x0":1.9,"x1":2.1,"q1":70.637,"med":71.086,"q3":71.812,"lo":69.371,"hi":72.89},{"g":"GG","c":3,"x0":2.9,"x1":3.1,"q1":71.224,"med":72.024,"q3":72.555,"lo":69.43,"hi":74.0}],
"bc":[{"g":"CC","c":1,"x0":0.9,"x1":1.1,"q1":57.806,"med":58.102,"q3":58.463,"lo":57.478,"hi":58.79},{"g":"CT","c":2,"x0":1.9,"x1":2.1,"q1":57.215,"med":58.512,"q3":60.302,"lo":53.094,"hi":63.34},{"g":"TT","c":3,"x0":2.9,"x1":3.1,"q1":59.547,"med":61.156,"q3":62.929,"lo":55.507,"hi":67.2}],
"pb":[{"c":1,"y":71.657},{"c":1,"y":71.322},{"c":1,"y":71.184},{"c":1,"y":69.486},{"c":1,"y":69.224},
{"c":2,"y":72.89},{"c":2,"y":72.78},{"c":2,"y":72.61},{"c":2,"y":72.53},{"c":2,"y":72.41},{"c":2,"y":72.29},{"c":2,"y":72.16},{"c":2,"y":72.0},{"c":2,"y":71.88},{"c":2,"y":71.8},{"c":2,"y":71.67},{"c":2,"y":71.59},{"c":2,"y":71.51},{"c":2,"y":71.39},{"c":2,"y":71.35},{"c":2,"y":71.22},{"c":2,"y":71.14},{"c":2,"y":71.09},{"c":2,"y":71.02},{"c":2,"y":70.9},{"c":2,"y":70.86},{"c":2,"y":70.61},{"c":2,"y":70.2},{"c":2,"y":70.12},{"c":2,"y":70.0},{"c":2,"y":69.63},{"c":2,"y":69.55},{"c":2,"y":69.47},{"c":2,"y":69.39},{"c":2,"y":69.37},
{"c":3,"y":75.67},{"c":3,"y":74.74},{"c":3,"y":74.7},{"c":3,"y":74.66},{"c":3,"y":74.02},{"c":3,"y":73.97},{"c":3,"y":73.92},{"c":3,"y":73.86},{"c":3,"y":73.8},{"c":3,"y":73.74},{"c":3,"y":73.68},{"c":3,"y":73.6},{"c":3,"y":73.55},{"c":3,"y":73.42},{"c":3,"y":73.25},{"c":3,"y":73.2},{"c":3,"y":73.16},{"c":3,"y":73.12},{"c":3,"y":73.08},{"c":3,"y":73.03},{"c":3,"y":72.98},{"c":3,"y":72.94},{"c":3,"y":72.9},{"c":3,"y":72.86},{"c":3,"y":72.82},{"c":3,"y":72.78},{"c":3,"y":72.75},{"c":3,"y":72.71},{"c":3,"y":72.68},{"c":3,"y":72.64},{"c":3,"y":72.6},{"c":3,"y":72.57},{"c":3,"y":72.54},{"c":3,"y":72.5},{"c":3,"y":72.47},{"c":3,"y":72.44},{"c":3,"y":72.41},{"c":3,"y":72.38},{"c":3,"y":72.35},{"c":3,"y":72.32},{"c":3,"y":72.29},{"c":3,"y":72.26},{"c":3,"y":72.23},{"c":3,"y":72.2},{"c":3,"y":72.17},{"c":3,"y":72.14},{"c":3,"y":72.11},{"c":3,"y":72.08},{"c":3,"y":72.05},{"c":3,"y":72.02},{"c":3,"y":71.99},{"c":3,"y":71.96},{"c":3,"y":71.93},{"c":3,"y":71.9},{"c":3,"y":71.87},{"c":3,"y":71.84},{"c":3,"y":71.81},{"c":3,"y":71.78},{"c":3,"y":71.75},{"c":3,"y":71.72},{"c":3,"y":71.69},{"c":3,"y":71.66},{"c":3,"y":71.63},{"c":3,"y":71.6},{"c":3,"y":71.57},{"c":3,"y":71.53},{"c":3,"y":71.5},{"c":3,"y":71.47},{"c":3,"y":71.43},{"c":3,"y":71.4},{"c":3,"y":71.36},{"c":3,"y":71.32},{"c":3,"y":71.28},{"c":3,"y":71.24},{"c":3,"y":71.2},{"c":3,"y":71.16},{"c":3,"y":71.12},{"c":3,"y":71.07},{"c":3,"y":71.03},{"c":3,"y":70.99},{"c":3,"y":70.94},{"c":3,"y":70.9},{"c":3,"y":70.85},{"c":3,"y":70.8},{"c":3,"y":70.76},{"c":3,"y":70.71},{"c":3,"y":70.66},{"c":3,"y":70.61},{"c":3,"y":70.56},{"c":3,"y":70.5},{"c":3,"y":70.44},{"c":3,"y":70.38},{"c":3,"y":70.25},{"c":3,"y":70.18},{"c":3,"y":70.1},{"c":3,"y":70.04},{"c":3,"y":69.98},{"c":3,"y":69.93},{"c":3,"y":69.87},{"c":3,"y":69.82},{"c":3,"y":69.43},{"c":3,"y":68.65},{"c":3,"y":72.45},{"c":3,"y":72.4},{"c":3,"y":72.36},{"c":3,"y":72.3},{"c":3,"y":72.27},{"c":3,"y":72.21},{"c":3,"y":72.18},{"c":3,"y":72.12},{"c":3,"y":72.09},{"c":3,"y":72.03},{"c":3,"y":72.0},{"c":3,"y":71.97},{"c":3,"y":71.91},{"c":3,"y":71.88},{"c":3,"y":71.82},{"c":3,"y":71.79},{"c":3,"y":71.73},{"c":3,"y":71.7},{"c":3,"y":71.64},{"c":3,"y":71.61},{"c":3,"y":71.55},{"c":3,"y":71.51},{"c":3,"y":71.45},{"c":3,"y":71.41},{"c":3,"y":71.34},{"c":3,"y":71.3},{"c":3,"y":71.26},{"c":3,"y":71.22},{"c":3,"y":71.18},{"c":3,"y":71.14},{"c":3,"y":71.09},{"c":3,"y":71.05},{"c":3,"y":71.01},{"c":3,"y":70.96},{"c":3,"y":70.92},{"c":3,"y":70.87},{"c":3,"y":70.83},{"c":3,"y":70.78},{"c":3,"y":70.73},{"c":3,"y":70.68},{"c":3,"y":70.63},{"c":3,"y":72.15},{"c":3,"y":72.06}],
"pc":[{"c":1,"y":58.79},{"c":1,"y":57.48},
{"c":2,"y":63.34},{"c":2,"y":61.86},{"c":2,"y":61.29},{"c":2,"y":61.09},{"c":2,"y":60.84},{"c":2,"y":60.71},{"c":2,"y":60.19},{"c":2,"y":59.69},{"c":2,"y":59.53},{"c":2,"y":59.45},{"c":2,"y":58.79},{"c":2,"y":58.63},{"c":2,"y":58.46},{"c":2,"y":58.35},{"c":2,"y":58.25},{"c":2,"y":57.76},{"c":2,"y":57.69},{"c":2,"y":57.31},{"c":2,"y":57.07},{"c":2,"y":56.74},{"c":2,"y":55.67},{"c":2,"y":55.31},{"c":2,"y":54.11},{"c":2,"y":53.09},
{"c":3,"y":67.2},{"c":3,"y":66.85},{"c":3,"y":65.55},{"c":3,"y":65.45},{"c":3,"y":65.35},{"c":3,"y":65.2},{"c":3,"y":65.1},{"c":3,"y":65.0},{"c":3,"y":64.9},{"c":3,"y":64.8},{"c":3,"y":64.75},{"c":3,"y":64.65},{"c":3,"y":64.55},{"c":3,"y":64.45},{"c":3,"y":64.4},{"c":3,"y":64.3},{"c":3,"y":64.25},{"c":3,"y":64.15},{"c":3,"y":64.1},{"c":3,"y":64.0},{"c":3,"y":63.95},{"c":3,"y":63.9},{"c":3,"y":63.8},{"c":3,"y":63.75},{"c":3,"y":63.7},{"c":3,"y":63.6},{"c":3,"y":63.55},{"c":3,"y":63.5},{"c":3,"y":63.45},{"c":3,"y":63.4},{"c":3,"y":63.35},{"c":3,"y":63.3},{"c":3,"y":63.25},{"c":3,"y":63.2},{"c":3,"y":63.15},{"c":3,"y":63.1},{"c":3,"y":63.05},{"c":3,"y":63.0},{"c":3,"y":62.95},{"c":3,"y":62.9},{"c":3,"y":62.85},{"c":3,"y":62.8},{"c":3,"y":62.75},{"c":3,"y":62.7},{"c":3,"y":62.65},{"c":3,"y":62.6},{"c":3,"y":62.55},{"c":3,"y":62.5},{"c":3,"y":62.45},{"c":3,"y":62.4},{"c":3,"y":62.35},{"c":3,"y":62.3},{"c":3,"y":62.25},{"c":3,"y":62.2},{"c":3,"y":62.15},{"c":3,"y":62.1},{"c":3,"y":62.05},{"c":3,"y":62.0},{"c":3,"y":61.95},{"c":3,"y":61.9},{"c":3,"y":61.85},{"c":3,"y":61.8},{"c":3,"y":61.75},{"c":3,"y":61.7},{"c":3,"y":61.65},{"c":3,"y":61.6},{"c":3,"y":61.55},{"c":3,"y":61.5},{"c":3,"y":61.45},{"c":3,"y":61.4},{"c":3,"y":61.35},{"c":3,"y":61.3},{"c":3,"y":61.25},{"c":3,"y":61.2},{"c":3,"y":61.15},{"c":3,"y":61.1},{"c":3,"y":61.05},{"c":3,"y":61.0},{"c":3,"y":60.95},{"c":3,"y":60.9},{"c":3,"y":60.85},{"c":3,"y":60.8},{"c":3,"y":60.75},{"c":3,"y":60.7},{"c":3,"y":60.65},{"c":3,"y":60.6},{"c":3,"y":60.55},{"c":3,"y":60.5},{"c":3,"y":60.45},{"c":3,"y":60.4},{"c":3,"y":60.35},{"c":3,"y":60.3},{"c":3,"y":60.25},{"c":3,"y":60.2},{"c":3,"y":60.15},{"c":3,"y":60.1},{"c":3,"y":60.05},{"c":3,"y":60.0},{"c":3,"y":59.95},{"c":3,"y":59.9},{"c":3,"y":59.85},{"c":3,"y":59.8},{"c":3,"y":59.75},{"c":3,"y":59.7},{"c":3,"y":59.65},{"c":3,"y":59.6},{"c":3,"y":59.55},{"c":3,"y":59.5},{"c":3,"y":59.45},{"c":3,"y":59.4},{"c":3,"y":59.35},{"c":3,"y":59.25},{"c":3,"y":59.2},{"c":3,"y":59.1},{"c":3,"y":59.0},{"c":3,"y":58.95},{"c":3,"y":58.85},{"c":3,"y":58.75},{"c":3,"y":58.7},{"c":3,"y":58.6},{"c":3,"y":58.5},{"c":3,"y":58.4},{"c":3,"y":58.3},{"c":3,"y":58.2},{"c":3,"y":58.1},{"c":3,"y":58.0},{"c":3,"y":57.9},{"c":3,"y":57.75},{"c":3,"y":57.65},{"c":3,"y":57.55},{"c":3,"y":57.45},{"c":3,"y":57.3},{"c":3,"y":57.2},{"c":3,"y":57.05},{"c":3,"y":56.95},{"c":3,"y":56.85},{"c":3,"y":56.75},{"c":3,"y":56.65},{"c":3,"y":56.5},{"c":3,"y":56.4},{"c":3,"y":56.3},{"c":3,"y":56.2},{"c":3,"y":56.1},{"c":3,"y":56.0},{"c":3,"y":55.9},{"c":3,"y":55.8},{"c":3,"y":55.6},{"c":3,"y":55.5}]
},
"vconcat":[
{"width":1946,"height":1290,"layer":[
{"data":{"values":[{"x":-0.897,"x2":92.78,"y":-13.21,"y2":45.87}]},"mark":{"type":"rect","color":"#d7d9d0"},"encoding":{"x":{"field":"x","type":"quantitative","axis":null,"scale":{"domain":[-6.348,92.78],"nice":false,"zero":false}},"x2":{"field":"x2"},"y":{"field":"y","type":"quantitative","axis":null,"scale":{"domain":[-18.01,47.81],"nice":false,"zero":false,"reverse":true}},"y2":{"field":"y2"}}},
{"data":{"values":[{"x":1.523,"x2":89.602,"y":-11.48,"y2":-11.07}]},"mark":{"type":"rect","color":"black"},"encoding":{"x":{"field":"x","type":"quantitative","axis":null},"x2":{"field":"x2"},"y":{"field":"y","type":"quantitative","axis":null},"y2":{"field":"y2"}}},
{"data":{"name":"snps"},"mark":{"type":"rule","color":"black","strokeWidth":1.5},"encoding":{"x":{"field":"bx","type":"quantitative","axis":null},"x2":{"field":"sx"},"y":{"datum":-11.07,"type":"quantitative","axis":null},"y2":{"datum":-9.44}}},
{"data":{"name":"snps"},"mark":{"type":"text","angle":270,"align":"left","baseline":"middle","font":"Liberation Serif","fontWeight":"bold","fontSize":21},"encoding":{"x":{"field":"lx","type":"quantitative","axis":null},"y":{"datum":-2.5,"type":"quantitative","axis":null},"text":{"field":"name"},"color":{"condition":{"test":"datum.red","value":"#f00000"},"value":"black"}}},
{"data":{"name":"cells"},"mark":{"type":"point","shape":"diamond","filled":true,"size":1542,"color":"#ec0a00","opacity":1,"stroke":"#f9a090","strokeWidth":0.7},"encoding":{"x":{"field":"x","type":"quantitative","axis":null},"y":{"field":"y","type":"quantitative","axis":null}}},
{"data":{"name":"snps"},"mark":{"type":"text","align":"center","baseline":"middle","font":"Liberation Serif","fontWeight":"bold","fontSize":18},"encoding":{"x":{"field":"lx","type":"quantitative","axis":null},"y":{"datum":0.255,"type":"quantitative","axis":null},"text":{"field":"n"}}},
{"data":{"name":"cells"},"transform":[{"filter":{"field":"v","valid":true}}],"mark":{"type":"text","align":"center","baseline":"middle","dy":3,"font":"Liberation Sans","fontSize":10,"fontWeight":"bold","color":"#111"},"encoding":{"x":{"field":"x","type":"quantitative","axis":null},"y":{"field":"y","type":"quantitative","axis":null},"text":{"field":"v","type":"quantitative"}}},
{"data":{"values":[{"o":1,"x":0.988,"y":0},{"o":2,"x":0.988,"y":-1.378},{"o":3,"x":90.95,"y":-1.378},{"o":4,"x":90.95,"y":0}]},"mark":{"type":"line","color":"#333","strokeWidth":2.2},"encoding":{"x":{"field":"x","type":"quantitative","axis":null},"y":{"field":"y","type":"quantitative","axis":null},"order":{"field":"o"}}},
{"data":{"values":[{"o":1,"x":0.988,"y":0},{"o":2,"x":46,"y":45},{"o":3,"x":90.95,"y":0}]},"mark":{"type":"line","color":"black","strokeWidth":3},"encoding":{"x":{"field":"x","type":"quantitative","axis":null},"y":{"field":"y","type":"quantitative","axis":null},"order":{"field":"o"}}},
{"data":{"values":[{"x":1.141,"y":-0.663,"t":"Block 1 (74 kb)"}]},"mark":{"type":"text","align":"left","baseline":"middle","font":"Liberation Serif","fontSize":17.5},"encoding":{"x":{"field":"x","type":"quantitative","axis":null},"y":{"field":"y","type":"quantitative","axis":null},"text":{"field":"t"}}},
{"data":{"values":[{"x":-5.836,"y":-15.05,"t":"a"}]},"mark":{"type":"text","clip":true,"align":"left","baseline":"alphabetic","font":"Liberation Serif","fontSize":110,"fontWeight":"bold"},"encoding":{"x":{"field":"x","type":"quantitative","axis":null},"y":{"field":"y","type":"quantitative","axis":null},"text":{"field":"t"}}}
]},
{"hconcat":[
{"width":6,"height":424.4,"data":{"values":[]},"mark":{"type":"point","opacity":0},"encoding":{}},
{"width":764,"height":424.4,
"layer":[
{"data":{"name":"vb"},"mark":{"type":"area","orient":"horizontal","interpolate":"monotone","stroke":"#1a2a3a","strokeWidth":1.2},"encoding":{
"x":{"field":"x0","type":"quantitative","scale":{"domain":[0.4,3.6],"nice":false,"zero":false},"axis":{"values":[1,2,3],"labelExpr":"datum.value==1?'AA':datum.value==2?'AG':'GG'","title":"Genotype","titleFont":"Liberation Serif","titleFontSize":42,"titleFontWeight":"normal","titleColor":"black","titleBaseline":"alphabetic","titleY":75.5,"labelFont":"Liberation Serif","labelFontSize":41,"labelColor":"black","labelBaseline":"alphabetic","labelPadding":34.5,"labelAngle":0,"domainColor":"black","domainWidth":4,"ticks":false,"grid":false}},
"x2":{"field":"x1"},
"y":{"field":"y","type":"quantitative","scale":{"domain":[68.345,76.06],"nice":false,"zero":false},"axis":{"values":[70,72,74,76],"format":"d","title":"Coefficient of MDM, %","titleFont":"Liberation Serif","titleFontSize":43.5,"titleFontWeight":"normal","titleColor":"black","titleBaseline":"alphabetic","titleAngle":270,"titleX":-63,"titleY":213,"labelFont":"Liberation Serif","labelFontSize":40,"labelColor":"black","labelPadding":4,"domainColor":"black","domainWidth":4,"tickColor":"black","tickWidth":2,"tickSize":5,"grid":false}},
"color":{"field":"g","type":"nominal","legend":null,"scale":{"domain":["AA","AG","GG"],"range":["#ff5f87","#4cff00","#75b2ff"]}}}},
{"data":{"name":"bb"},"mark":{"type":"rule","color":"black","strokeWidth":2},"encoding":{"x":{"field":"c","type":"quantitative"},"y":{"field":"lo","type":"quantitative"},"y2":{"field":"hi"}}},
{"data":{"name":"bb"},"mark":{"type":"rect","stroke":"black","strokeWidth":2,"fillOpacity":0},"encoding":{"x":{"field":"x0","type":"quantitative"},"x2":{"field":"x1"},"y":{"field":"q1","type":"quantitative"},"y2":{"field":"q3"}}},
{"data":{"name":"pb"},"mark":{"type":"circle","color":"black","size":28,"opacity":1},"encoding":{"x":{"field":"c","type":"quantitative"},"y":{"field":"y","type":"quantitative"}}},
{"data":{"name":"bb"},"mark":{"type":"rule","color":"black","strokeWidth":3.5},"encoding":{"x":{"field":"x0","type":"quantitative"},"x2":{"field":"x1"},"y":{"field":"med","type":"quantitative"}}},
{"data":{"values":[{"x":1.797,"y":77.236,"t":"rs740788104"}]},"mark":{"type":"text","align":"center","baseline":"alphabetic","font":"Liberation Serif","fontSize":75},"encoding":{"x":{"field":"x","type":"quantitative"},"y":{"field":"y","type":"quantitative"},"text":{"field":"t"}}},
{"data":{"values":[{"x":0.997,"y":72.11,"t":"n=5"},{"x":2.04,"y":73.22,"t":"n=30"},{"x":3.09,"y":76.0,"t":"n=145"}]},"mark":{"type":"text","align":"center","baseline":"alphabetic","font":"Liberation Serif","fontSize":61},"encoding":{"x":{"field":"x","type":"quantitative"},"y":{"field":"y","type":"quantitative"},"text":{"field":"t"}}},
{"data":{"values":[{"x":0.54,"y":75.46,"t":"Anova,"},{"x":1.131,"y":75.46,"t":"= 1.9e−05"}]},"mark":{"type":"text","align":"left","baseline":"alphabetic","font":"Liberation Serif","fontSize":34},"encoding":{"x":{"field":"x","type":"quantitative"},"y":{"field":"y","type":"quantitative"},"text":{"field":"t"}}},
{"data":{"values":[{"x":1.005,"y":75.46,"t":"P"}]},"mark":{"type":"text","align":"left","baseline":"alphabetic","font":"Liberation Serif","fontSize":34,"fontStyle":"italic"},"encoding":{"x":{"field":"x","type":"quantitative"},"y":{"field":"y","type":"quantitative"},"text":{"field":"t"}}},
{"data":{"values":[{"x":-0.46,"y":78.09,"t":"b"}]},"mark":{"type":"text","align":"left","baseline":"alphabetic","font":"Liberation Serif","fontSize":110,"fontWeight":"bold"},"encoding":{"x":{"field":"x","type":"quantitative"},"y":{"field":"y","type":"quantitative"},"text":{"field":"t"}}}
]},
{"width":771,"height":424.4,
"layer":[
{"data":{"name":"vc"},"mark":{"type":"area","orient":"horizontal","interpolate":"monotone","stroke":"#1a2a3a","strokeWidth":1.2},"encoding":{
"x":{"field":"x0","type":"quantitative","scale":{"domain":[0.406,3.632],"nice":false,"zero":false},"axis":{"values":[1,2,3],"labelExpr":"datum.value==1?'CC':datum.value==2?'CT':'TT'","title":"Genotype","titleFont":"Liberation Serif","titleFontSize":42,"titleFontWeight":"normal","titleColor":"black","titleBaseline":"alphabetic","titleY":75.5,"labelFont":"Liberation Serif","labelFontSize":41,"labelColor":"black","labelBaseline":"alphabetic","labelPadding":34.5,"labelAngle":0,"domainColor":"black","domainWidth":4,"ticks":false,"grid":false}},
"x2":{"field":"x1"},
"y":{"field":"y","type":"quantitative","scale":{"domain":[52.39,67.87],"nice":false,"zero":false},"axis":{"values":[56,60,64],"format":"d","title":"Coefficient of MCP, %","titleFont":"Liberation Serif","titleFontSize":43,"titleFontWeight":"normal","titleColor":"black","titleBaseline":"alphabetic","titleAngle":270,"titleX":-64,"titleY":216,"labelFont":"Liberation Serif","labelFontSize":40,"labelColor":"black","labelPadding":4,"domainColor":"black","domainWidth":4,"tickColor":"black","tickWidth":2,"tickSize":5,"grid":false}},
"color":{"field":"g","type":"nominal","legend":null,"scale":{"domain":["CC","CT","TT"],"range":["#ff5f87","#4cff00","#75b2ff"]}}}},
{"data":{"name":"bc"},"mark":{"type":"rule","color":"black","strokeWidth":2},"encoding":{"x":{"field":"c","type":"quantitative"},"y":{"field":"lo","type":"quantitative"},"y2":{"field":"hi"}}},
{"data":{"name":"bc"},"transform":[{"filter":"datum.g=='CC'"}],"mark":{"type":"rect","color":"#ff5f87"},"encoding":{"x":{"field":"x0","type":"quantitative"},"x2":{"field":"x1"},"y":{"field":"q1","type":"quantitative"},"y2":{"field":"q3"}}},
{"data":{"name":"bc"},"mark":{"type":"rect","stroke":"black","strokeWidth":2,"fillOpacity":0},"encoding":{"x":{"field":"x0","type":"quantitative"},"x2":{"field":"x1"},"y":{"field":"q1","type":"quantitative"},"y2":{"field":"q3"}}},
{"data":{"name":"pc"},"mark":{"type":"circle","color":"black","size":28,"opacity":1},"encoding":{"x":{"field":"c","type":"quantitative"},"y":{"field":"y","type":"quantitative"}}},
{"data":{"name":"bc"},"mark":{"type":"rule","color":"black","strokeWidth":3.5},"encoding":{"x":{"field":"x0","type":"quantitative"},"x2":{"field":"x1"},"y":{"field":"med","type":"quantitative"}}},
{"data":{"values":[{"x":1.806,"y":70.23,"t":"rs15137100"}]},"mark":{"type":"text","align":"center","baseline":"alphabetic","font":"Liberation Serif","fontSize":75},"encoding":{"x":{"field":"x","type":"quantitative"},"y":{"field":"y","type":"quantitative"},"text":{"field":"t"}}},
{"data":{"values":[{"x":1.009,"y":59.66,"t":"n=2"},{"x":2.076,"y":64.29,"t":"n=24"},{"x":3.113,"y":67.87,"t":"n=154"}]},"mark":{"type":"text","align":"center","baseline":"alphabetic","font":"Liberation Serif","fontSize":61},"encoding":{"x":{"field":"x","type":"quantitative"},"y":{"field":"y","type":"quantitative"},"text":{"field":"t"}}},
{"data":{"values":[{"x":0.545,"y":66.67,"t":"Anova,"},{"x":1.132,"y":66.67,"t":"= 2.3e−06"}]},"mark":{"type":"text","align":"left","baseline":"alphabetic","font":"Liberation Serif","fontSize":34},"encoding":{"x":{"field":"x","type":"quantitative"},"y":{"field":"y","type":"quantitative"},"text":{"field":"t"}}},
{"data":{"values":[{"x":0.997,"y":66.67,"t":"P"}]},"mark":{"type":"text","align":"left","baseline":"alphabetic","font":"Liberation Serif","fontSize":34,"fontStyle":"italic"},"encoding":{"x":{"field":"x","type":"quantitative"},"y":{"field":"y","type":"quantitative"},"text":{"field":"t"}}},
{"data":{"values":[{"x":-0.137,"y":71.94,"t":"c"}]},"mark":{"type":"text","align":"left","baseline":"alphabetic","font":"Liberation Serif","fontSize":110,"fontWeight":"bold"},"encoding":{"x":{"field":"x","type":"quantitative"},"y":{"field":"y","type":"quantitative"},"text":{"field":"t"}}}
]}
],"spacing":202.4,"bounds":"flush"}
]}
